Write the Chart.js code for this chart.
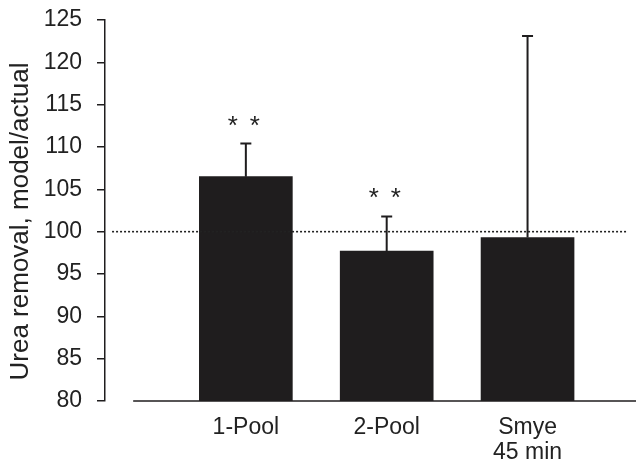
<!DOCTYPE html>
<html>
<head>
<meta charset="utf-8">
<script src="https://cdn.jsdelivr.net/npm/chart.js@4.4.1/dist/chart.umd.min.js"></script>
<style>
  html, body { margin: 0; padding: 0; background: #fff; }
  #wrap { width: 636px; height: 464px; }
</style>
</head>
<body>
<div id="wrap"><canvas id="grafico" width="636" height="464"></canvas></div>
<script>
// valores
const categorias = [['1-Pool'], ['2-Pool'], ['Smye', '45 min']];
const posicoes = [1, 2, 3];
const medias = [106.5, 97.7, 99.3];
const erros = [3.9, 4.1, 23.8];
const marcas = ['* *', '* *', ''];
const linhaRef = 100;
const limitesRef = [0.05, 3.7];
const inicioEixoX = 0.2;
const ticksY = [80, 85, 90, 95, 100, 105, 110, 115, 120, 125];
const tituloY = 'Urea removal, model/actual';

const corTexto = '#222';
const corBarra = '#1f1d1e';
const fonte = '"Liberation Sans", Arial, sans-serif';

// barras de erro (só para cima) e asteriscos
const errosPlugin = {
  id: 'erros',
  afterDatasetsDraw(chart) {
    const ctx = chart.ctx;
    const y = chart.scales.y;
    const meta = chart.getDatasetMeta(0);
    ctx.save();
    meta.data.forEach((bar, i) => {
      const topo = y.getPixelForValue(medias[i]);
      const fim = y.getPixelForValue(medias[i] + erros[i]);
      ctx.strokeStyle = corBarra;
      ctx.lineWidth = 2;
      ctx.beginPath();
      ctx.moveTo(bar.x, topo);
      ctx.lineTo(bar.x, fim);
      ctx.moveTo(bar.x - 5.5, fim);
      ctx.lineTo(bar.x + 5.5, fim);
      ctx.stroke();
      if (marcas[i]) {
        ctx.fillStyle = corTexto;
        ctx.font = '26px ' + fonte;
        ctx.textAlign = 'center';
        ctx.textBaseline = 'alphabetic';
        const partes = marcas[i].split(' ');
        ctx.fillText(partes[0], bar.x - 13, fim - 10);
        ctx.fillText(partes[1], bar.x + 9, fim - 10);
      }
    });
    ctx.restore();
  }
};

// linha base do eixo x (não encosta no eixo y) e título do eixo y
const baseX = {
  id: 'baseX',
  beforeDatasetsDraw(chart) {
    const { ctx, chartArea, scales } = chart;
    const yb = scales.y.getPixelForValue(ticksY[0]);
    ctx.save();
    ctx.strokeStyle = corBarra;
    ctx.lineWidth = 1.5;
    ctx.beginPath();
    ctx.moveTo(scales.x.getPixelForValue(inicioEixoX), yb);
    ctx.lineTo(chartArea.right, yb);
    ctx.stroke();

    ctx.translate(21, (chartArea.top + chartArea.bottom) / 2 + 11);
    ctx.rotate(-Math.PI / 2);
    ctx.fillStyle = corTexto;
    ctx.font = '26px ' + fonte;
    ctx.textAlign = 'center';
    ctx.textBaseline = 'middle';
    ctx.fillText(tituloY, 0, 0);
    ctx.restore();
  }
};

const ctx = document.getElementById('grafico').getContext('2d');
new Chart(ctx, {
  type: 'bar',
  data: {
    datasets: [
      {
        type: 'bar',
        data: posicoes.map((x, i) => ({ x, y: medias[i] })),
        backgroundColor: corBarra,
        borderWidth: 0,
        barThickness: 93,
        order: 2
      },
      {
        type: 'line',
        data: limitesRef.map(x => ({ x, y: linhaRef })),
        borderColor: '#222',
        borderWidth: 1.6,
        borderDash: [2, 2],
        pointRadius: 0,
        fill: false,
        order: 1
      }
    ]
  },
  options: {
    responsive: false,
    animation: false,
    layout: { padding: { top: 20, right: 0, bottom: 0, left: 0 } },
    plugins: {
      legend: { display: false },
      tooltip: { enabled: false }
    },
    scales: {
      x: {
        type: 'linear',
        offset: false,
        min: 0,
        max: 3.77,
        border: { display: false },
        grid: { display: false, drawTicks: false },
        ticks: {
          stepSize: 1,
          padding: 14,
          color: corTexto,
          font: { family: fonte, size: 23, lineHeight: 1.1 },
          maxRotation: 0,
          autoSkip: false,
          callback: v => {
            const i = posicoes.indexOf(v);
            return i >= 0 ? categorias[i] : '';
          }
        },
        afterFit: s => { s.height = 63; s.paddingLeft = 0; s.paddingRight = 0; }
      },
      y: {
        min: 80,
        max: 125,
        border: { display: true, color: corBarra, width: 1.5 },
        grid: { drawOnChartArea: false, tickLength: 8, color: corBarra, lineWidth: 1.5 },
        afterBuildTicks: s => { s.ticks = ticksY.map(v => ({ value: v })); },
        ticks: {
          padding: 15,
          color: corTexto,
          font: { family: fonte, size: 23 }
        },
        afterFit: s => { s.width = 105; s.paddingTop = 0; s.paddingBottom = 0; }
      }
    }
  },
  plugins: [baseX, errosPlugin]
});
</script>
</body>
</html>
